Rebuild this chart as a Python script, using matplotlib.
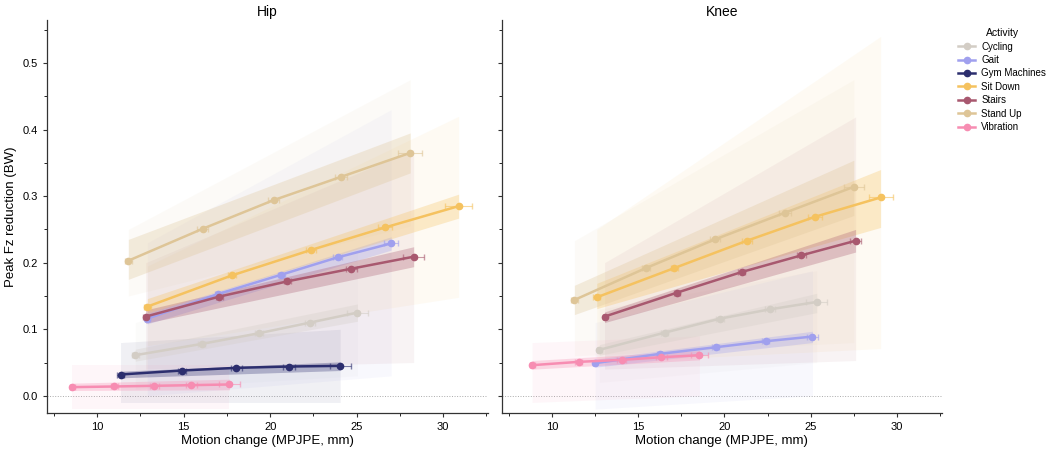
import matplotlib
matplotlib.use("Agg")
import matplotlib.pyplot as plt
from matplotlib.lines import Line2D
from matplotlib.ticker import MultipleLocator

plt.rcParams["font.family"] = ["Liberation Sans", "DejaVu Sans"]

ACTIVITIES = ["Cycling", "Gait", "Gym Machines", "Sit Down", "Stairs", "Stand Up", "Vibration"]
COLORS = {
    "Cycling": "#d3cdc5",
    "Gait": "#a0a0ee",
    "Gym Machines": "#2c2e6e",
    "Sit Down": "#f5c25f",
    "Stairs": "#a8586f",
    "Stand Up": "#dec597",
    "Vibration": "#f78db2",
}

# ---- Hip: binned points (motion change mm, peak Fz reduction BW) ----
HIP_X = {
    "Cycling": [12.2, 16.05, 19.35, 22.3, 25.05],
    "Gait": [12.9, 17.0, 20.65, 23.9, 27.0],
    "Gym Machines": [11.35, 14.9, 18.05, 21.1, 24.05],
    "Sit Down": [12.9, 17.8, 22.35, 26.65, 30.9],
    "Stairs": [12.8, 17.05, 21.0, 24.7, 28.3],
    "Stand Up": [11.8, 16.1, 20.2, 24.1, 28.1],
    "Vibration": [8.55, 11.0, 13.3, 15.45, 17.65],
}
HIP_Y = {
    "Cycling": [0.061, 0.078, 0.094, 0.110, 0.125],
    "Gait": [0.116, 0.153, 0.182, 0.208, 0.229],
    "Gym Machines": [0.032, 0.038, 0.042, 0.044, 0.045],
    "Sit Down": [0.134, 0.181, 0.219, 0.253, 0.285],
    "Stairs": [0.119, 0.149, 0.172, 0.191, 0.209],
    "Stand Up": [0.203, 0.251, 0.294, 0.329, 0.365],
    "Vibration": [0.013, 0.014, 0.015, 0.016, 0.017],
}
HIP_XERR = {
    "Cycling": [0.2, 0.2, 0.25, 0.3, 0.6],
    "Gait": [0.15, 0.2, 0.2, 0.25, 0.4],
    "Gym Machines": [0.2, 0.25, 0.3, 0.35, 0.6],
    "Sit Down": [0.2, 0.25, 0.3, 0.4, 0.8],
    "Stairs": [0.15, 0.2, 0.2, 0.3, 0.6],
    "Stand Up": [0.2, 0.3, 0.3, 0.35, 0.7],
    "Vibration": [0.15, 0.2, 0.25, 0.3, 0.6],
}
# bands as (lo_first, hi_first, lo_last, hi_last)
HIP_CI = {
    "Cycling": (0.052, 0.070, 0.112, 0.138),
    "Gait": (0.108, 0.124, 0.219, 0.239),
    "Gym Machines": (0.027, 0.037, 0.038, 0.051),
    "Sit Down": (0.124, 0.146, 0.267, 0.303),
    "Stairs": (0.109, 0.129, 0.194, 0.224),
    "Stand Up": (0.175, 0.235, 0.335, 0.395),
    "Vibration": (0.008, 0.019, 0.009, 0.025),
}
HIP_PI = {
    "Cycling": (0.010, 0.110, 0.030, 0.220),
    "Gait": (0.000, 0.230, 0.030, 0.430),
    "Gym Machines": (-0.010, 0.080, -0.010, 0.100),
    "Sit Down": (0.075, 0.195, 0.148, 0.420),
    "Stairs": (0.040, 0.200, 0.050, 0.370),
    "Stand Up": (0.150, 0.250, 0.255, 0.475),
    "Vibration": (-0.020, 0.046, -0.020, 0.046),
}

# ---- Knee ----
KNEE_X = {
    "Cycling": [12.75, 16.55, 19.75, 22.65, 25.35],
    "Gait": [12.5, 16.25, 19.5, 22.4, 25.1],
    "Sit Down": [12.6, 17.1, 21.3, 25.25, 29.05],
    "Stairs": [13.05, 17.25, 21.0, 24.45, 27.6],
    "Stand Up": [11.3, 15.45, 19.45, 23.5, 27.5],
    "Vibration": [8.85, 11.55, 14.05, 16.35, 18.55],
}
KNEE_Y = {
    "Cycling": [0.069, 0.095, 0.116, 0.130, 0.141],
    "Gait": [0.049, 0.063, 0.073, 0.082, 0.089],
    "Sit Down": [0.148, 0.192, 0.233, 0.269, 0.298],
    "Stairs": [0.119, 0.155, 0.186, 0.211, 0.233],
    "Stand Up": [0.144, 0.192, 0.235, 0.275, 0.314],
    "Vibration": [0.046, 0.051, 0.054, 0.058, 0.061],
}
KNEE_XERR = {
    "Cycling": [0.15, 0.2, 0.25, 0.3, 0.6],
    "Gait": [0.1, 0.15, 0.2, 0.2, 0.3],
    "Sit Down": [0.2, 0.2, 0.3, 0.4, 0.7],
    "Stairs": [0.1, 0.15, 0.2, 0.25, 0.3],
    "Stand Up": [0.2, 0.25, 0.3, 0.35, 0.6],
    "Vibration": [0.15, 0.2, 0.25, 0.3, 0.5],
}
KNEE_CI = {
    "Cycling": (0.061, 0.077, 0.125, 0.154),
    "Gait": (0.043, 0.055, 0.080, 0.097),
    "Sit Down": (0.131, 0.169, 0.253, 0.340),
    "Stairs": (0.110, 0.126, 0.216, 0.250),
    "Stand Up": (0.122, 0.166, 0.271, 0.354),
    "Vibration": (0.040, 0.053, 0.054, 0.068),
}
KNEE_PI = {
    "Cycling": (0.020, 0.130, 0.050, 0.188),
    "Gait": (-0.020, 0.110, 0.000, 0.188),
    "Sit Down": (0.050, 0.250, 0.071, 0.540),
    "Stairs": (0.040, 0.200, 0.053, 0.419),
    "Stand Up": (0.060, 0.233, 0.080, 0.475),
    "Vibration": (-0.010, 0.080, 0.000, 0.090),
}


def draw_panel(ax, xs, ys, xerrs, cis, pis, title):
    for act in ACTIVITIES:
        if act not in xs:
            continue
        c = COLORS[act]
        x = xs[act]
        ends = [x[0], x[-1]]
        p = pis[act]
        ax.fill_between(ends, [p[0], p[2]], [p[1], p[3]], color=c, alpha=0.07, lw=0, zorder=1)
        ci = cis[act]
        ax.fill_between(ends, [ci[0], ci[2]], [ci[1], ci[3]], color=c, alpha=0.3, lw=0, zorder=2)
    for act in ACTIVITIES:
        if act not in xs:
            continue
        c = COLORS[act]
        ax.errorbar(xs[act], ys[act], xerr=xerrs[act], fmt="none", ecolor=c,
                    elinewidth=0.8, capsize=2, alpha=0.6, zorder=3)
        ax.plot(xs[act], ys[act], "-o", color=c, lw=1.8, ms=4.5, zorder=4)
    ax.axhline(0, color="#aaaaaa", lw=0.7, ls=":", zorder=0)
    ax.set_title(title, fontsize=10, pad=3)
    ax.set_xlabel("Motion change (MPJPE, mm)", fontsize=9.5, labelpad=2)
    ax.set_xlim(7.1, 32.6)
    ax.set_ylim(-0.026, 0.565)
    ax.xaxis.set_major_locator(MultipleLocator(5))
    ax.xaxis.set_minor_locator(MultipleLocator(2.5))
    ax.yaxis.set_major_locator(MultipleLocator(0.1))
    ax.yaxis.set_minor_locator(MultipleLocator(0.05))
    ax.tick_params(labelsize=8, length=3, width=0.8, color="#333333")
    ax.tick_params(which="minor", length=2, width=0.6)
    for s in ("top", "right"):
        ax.spines[s].set_visible(False)
    for s in ("left", "bottom"):
        ax.spines[s].set_color("#333333")
        ax.spines[s].set_linewidth(0.9)


fig = plt.figure(figsize=(10.5, 4.5), dpi=100)
ax_hip = fig.add_axes([0.0448, 0.082, 0.42, 0.874])
ax_knee = fig.add_axes([0.478, 0.082, 0.419, 0.874], sharey=ax_hip)

draw_panel(ax_hip, HIP_X, HIP_Y, HIP_XERR, HIP_CI, HIP_PI, "Hip")
draw_panel(ax_knee, KNEE_X, KNEE_Y, KNEE_XERR, KNEE_CI, KNEE_PI, "Knee")
ax_hip.set_ylabel("Peak Fz reduction (BW)", fontsize=9.5, labelpad=4)
ax_knee.tick_params(labelleft=False)

handles = [Line2D([0], [0], color=COLORS[a], marker="o", lw=1.8, ms=4.5) for a in ACTIVITIES]
fig.legend(handles, ACTIVITIES, title="Activity", loc="upper left",
           bbox_to_anchor=(0.904, 0.957), frameon=False, fontsize=7,
           title_fontsize=7.5, handlelength=1.8, handletextpad=0.6, labelspacing=0.35)

fig.savefig("out.png", dpi=100)
